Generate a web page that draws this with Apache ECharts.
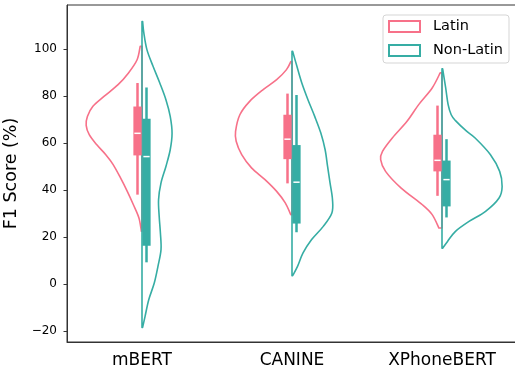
<!DOCTYPE html>
<html><head><meta charset="utf-8">
<script src="https://cdn.jsdelivr.net/npm/echarts@6/dist/echarts.min.js"></script>
<style>html,body{margin:0;padding:0;background:#fff}#c{width:515px;height:367px}</style>
</head><body><div id="c"></div>
<script>
// ---------------- data ----------------
const categories = ['mBERT', 'CANINE', 'XPhoneBERT'];
const groupNames = ['Latin', 'Non-Latin'];
const yTicks = [-20, 0, 20, 40, 60, 80, 100];
const yMin = -24.7, yMax = 118.7;

// Violin outlines: F1 score values (top -> bottom) and relative density (1 = widest)
const latinMbertY = [101.1, 95.4, 89.8, 84.8, 79.8, 75.6, 71.3, 67.5, 63.5, 59.3, 55, 50.8, 45.1, 39.4, 33.7, 28.1, 22.4];
const latinMbertD = [0.03, 0.08, 0.22, 0.39, 0.62, 0.80, 0.89, 0.91, 0.86, 0.74, 0.59, 0.47, 0.35, 0.24, 0.14, 0.05, 0.01];
const latinCanineY = [94.6, 91.2, 86.9, 82.7, 77.7, 72, 64.9, 60.7, 55, 49.4, 44.4, 39.4, 34.5, 29.5];
const latinCanineD = [0.02, 0.09, 0.25, 0.47, 0.69, 0.85, 0.92, 0.91, 0.82, 0.66, 0.44, 0.25, 0.11, 0.02];
const latinXphoneY = [89.8, 83.4, 76.3, 69.2, 62.1, 56.4, 52.9, 47.9, 40.9, 33.7, 29.5, 23.8];
const latinXphoneD = [0.03, 0.16, 0.38, 0.57, 0.81, 0.97, 1.0, 0.92, 0.67, 0.32, 0.16, 0.05];

const nonLatinMbertY = [111.7, 106.8, 99.7, 92.6, 85.5, 78.4, 71.3, 64.1, 57.1, 50, 43, 35.9, 28.8, 21.7, 14.6, 7.5, 0.4, -6.7, -13.8, -18.5];
const nonLatinMbertD = [0.01, 0.03, 0.08, 0.18, 0.29, 0.39, 0.46, 0.49, 0.46, 0.39, 0.31, 0.27, 0.28, 0.30, 0.31, 0.26, 0.20, 0.11, 0.05, 0.01];
const nonLatinCanineY = [99, 92.6, 85.5, 78.4, 71.3, 64.2, 57.1, 50, 43, 35.9, 30.2, 24.5, 18.9, 13.2, 7.5, 3.5];
const nonLatinCanineD = [0.01, 0.08, 0.16, 0.26, 0.37, 0.47, 0.54, 0.58, 0.62, 0.66, 0.65, 0.51, 0.32, 0.18, 0.09, 0.01];
const nonLatinXphoneY = [91.6, 83.4, 76.3, 72, 69.5, 65, 62.1, 55, 47.9, 41.5, 36.6, 30.9, 26.6, 22.4, 18.1, 15.2];
const nonLatinXphoneD = [0.01, 0.06, 0.10, 0.15, 0.22, 0.40, 0.54, 0.79, 0.94, 0.98, 0.93, 0.71, 0.44, 0.22, 0.09, 0.01];

// Box stats per category: [lower whisker, Q1, median, Q3, upper whisker]
const latinBoxes = [
  [38, 54.7, 64.1, 75.5, 85.5],
  [42.8, 53.1, 61.6, 72, 81],
  [37.5, 47.9, 52.6, 63.5, 75.9]
];
const nonLatinBoxes = [
  [9.2, 16.3, 54.2, 70.3, 83.6],
  [22, 25.7, 43.3, 59.1, 80.4],
  [28.3, 33, 44.4, 52.5, 61.6]
];

// ---------------- style ----------------
const PINK = '#f77189', TEAL = '#36ada4';
const VIOLIN_HALF = 0.409;   // widest half-violin in category-band units
const BOX_W = 0.055, BOX_OFF = 0.030;
const FONT = 'DejaVu Sans';

const latinProfiles = [
  {y: latinMbertY, d: latinMbertD}, {y: latinCanineY, d: latinCanineD}, {y: latinXphoneY, d: latinXphoneD}
];
const nonLatinProfiles = [
  {y: nonLatinMbertY, d: nonLatinMbertD}, {y: nonLatinCanineY, d: nonLatinCanineD}, {y: nonLatinXphoneY, d: nonLatinXphoneD}
];

// Smooth outline through the given screen points (Catmull-Rom drawn as cubic Béziers)
function curvePath(pts) {
  let d = 'M' + pts[0][0] + ' ' + pts[0][1];
  for (let i = 0; i < pts.length - 1; i++) {
    const p0 = pts[i - 1] || pts[i], p1 = pts[i], p2 = pts[i + 1], p3 = pts[i + 2] || pts[i + 1];
    const c1x = p1[0] + (p2[0] - p0[0]) / 6, c1y = p1[1] + (p2[1] - p0[1]) / 6;
    const c2x = p2[0] - (p3[0] - p1[0]) / 6, c2y = p2[1] - (p3[1] - p1[1]) / 6;
    d += ' C' + c1x + ' ' + c1y + ' ' + c2x + ' ' + c2y + ' ' + p2[0] + ' ' + p2[1];
  }
  return d;
}

function violinRenderer(side, profiles, color) {
  return function (params, api) {
    const ci = api.value(0);
    const p = profiles[ci];
    const band = api.size([1, 0])[0];
    const half = VIOLIN_HALF * band;
    const cx = api.coord([ci, 0])[0];
    const pts = p.y.map((v, i) => {
      const c = api.coord([ci, v]);
      return [c[0] + side * p.d[i] * half, c[1]];
    });
    const last = pts.length - 1;
    const d = curvePath(pts) + ' L' + cx + ' ' + pts[last][1] + ' L' + cx + ' ' + pts[0][1] + ' Z';
    return {
      type: 'path',
      shape: {pathData: d},
      style: {stroke: color, fill: null, lineWidth: 1.6, lineJoin: 'round'}
    };
  };
}

function boxRenderer(side, boxes, color) {
  return function (params, api) {
    const ci = api.value(0);
    const b = boxes[ci];
    const band = api.size([1, 0])[0];
    const cx = api.coord([ci, 0])[0] + side * BOX_OFF * band;
    const w = BOX_W * band;
    const yLo = api.coord([ci, b[0]])[1], yQ1 = api.coord([ci, b[1]])[1];
    const yMed = api.coord([ci, b[2]])[1], yQ3 = api.coord([ci, b[3]])[1];
    const yHi = api.coord([ci, b[4]])[1];
    return {
      type: 'group',
      children: [
        {type: 'line', shape: {x1: cx, y1: yHi, x2: cx, y2: yLo}, style: {stroke: color, lineWidth: 2.5}},
        {type: 'rect', shape: {x: cx - w / 2, y: yQ3, width: w, height: yQ1 - yQ3}, style: {fill: color}},
        {type: 'line', shape: {x1: cx - w / 2 + 1, y1: yMed, x2: cx + w / 2 - 1, y2: yMed}, style: {stroke: '#fff', lineWidth: 1.5}}
      ]
    };
  };
}

const catData = categories.map((c, i) => [i, 0]);

const chart = echarts.init(document.getElementById('c'), null, {renderer: 'canvas'});
chart.setOption({
  animation: false,
  backgroundColor: '#fff',
  textStyle: {fontFamily: FONT},
  grid: {left: 67, right: -2, top: 5, bottom: 25, show: true, borderColor: '#333', borderWidth: 1,
    backgroundColor: 'transparent', containLabel: false, outerBoundsMode: 'none'},
  legend: {
    orient: 'vertical', left: 383, top: 15,
    padding: [4, 6, 5, 5], itemGap: 9, itemWidth: 31, itemHeight: 11,
    backgroundColor: 'rgba(255,255,255,0.8)', borderColor: '#d5d5d5', borderWidth: 1, borderRadius: 3,
    textStyle: {fontSize: 14.5, color: '#000', fontFamily: FONT, padding: [0, 0, 0, 8]},
    data: [
      {name: groupNames[0], icon: 'rect', itemStyle: {color: '#fff', borderColor: PINK, borderWidth: 2}},
      {name: groupNames[1], icon: 'rect', itemStyle: {color: '#fff', borderColor: TEAL, borderWidth: 2}}
    ]
  },
  xAxis: {
    type: 'category', data: categories, boundaryGap: true,
    axisLine: {onZero: false, lineStyle: {color: '#333', width: 1}},
    axisTick: {alignWithLabel: true, length: 3.5, lineStyle: {color: '#333'}},
    axisLabel: {fontSize: 17, color: '#000', margin: 10, fontFamily: FONT},
    splitLine: {show: false}
  },
  yAxis: {
    type: 'value', min: yMin, max: yMax,
    name: 'F1 Score (%)', nameLocation: 'middle', nameGap: 42,
    nameTextStyle: {fontSize: 17.5, color: '#000', fontFamily: FONT},
    axisLine: {show: true, lineStyle: {color: '#333', width: 1}},
    axisTick: {show: true, length: 3.5, lineStyle: {color: '#333'}, customValues: yTicks},
    axisLabel: {fontSize: 12, color: '#000', margin: 10, fontFamily: FONT, customValues: yTicks,
      formatter: v => (v < 0 ? '\u2212' + Math.abs(v) : String(v))},
    splitLine: {show: false}
  },
  series: [
    {name: groupNames[0], type: 'custom', data: catData, encode: {x: 0, y: 1}, color: PINK,
      renderItem: violinRenderer(-1, latinProfiles, PINK), z: 2},
    {name: groupNames[1], type: 'custom', data: catData, encode: {x: 0, y: 1}, color: TEAL,
      renderItem: violinRenderer(1, nonLatinProfiles, TEAL), z: 3},
    {name: groupNames[0], type: 'custom', data: catData, encode: {x: 0, y: 1}, color: PINK,
      renderItem: boxRenderer(-1, latinBoxes, PINK), z: 4},
    {name: groupNames[1], type: 'custom', data: catData, encode: {x: 0, y: 1}, color: TEAL,
      renderItem: boxRenderer(1, nonLatinBoxes, TEAL), z: 5}
  ]
});
</script></body></html>
